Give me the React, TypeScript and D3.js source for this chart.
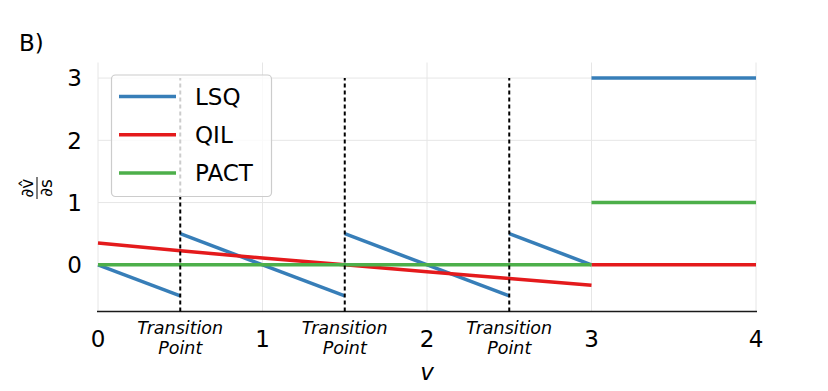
import React, { useEffect, useRef } from "react";
import * as d3 from "d3";

interface Pt {
  x: number;
  y: number;
}

// each series is a list of disconnected segments
const lsqSegments: Pt[][] = [
  [{ x: 0, y: 0 }, { x: 0.5, y: -0.5 }],
  [{ x: 0.5, y: 0.5 }, { x: 1.5, y: -0.5 }],
  [{ x: 1.5, y: 0.5 }, { x: 2.5, y: -0.5 }],
  [{ x: 2.5, y: 0.5 }, { x: 3, y: 0 }],
  [{ x: 3, y: 3 }, { x: 4, y: 3 }],
];
const qilSegments: Pt[][] = [
  [
    { x: 0, y: 0.35 },
    { x: 0.5, y: 0.225 },
    { x: 1, y: 0.11 },
    { x: 1.5, y: 0 },
    { x: 2, y: -0.11 },
    { x: 2.5, y: -0.22 },
    { x: 3, y: -0.33 },
  ],
  [{ x: 3, y: 0 }, { x: 4, y: 0 }],
];
const pactSegments: Pt[][] = [
  [{ x: 0, y: 0 }, { x: 3, y: 0 }],
  [{ x: 3, y: 1 }, { x: 4, y: 1 }],
];

const seriesNames = ["LSQ", "QIL", "PACT"];
const seriesColors = ["#377eb8", "#e41a1c", "#4daf4a"];
const transitionPoints = [0.5, 1.5, 2.5];
const xTicks = [0, 1, 2, 3, 4];
const yTicks = [0, 1, 2, 3];

const W = 828;
const H = 391;
const FONT = "DejaVu Sans, sans-serif";

const App: React.FC = () => {
  const ref = useRef<SVGSVGElement | null>(null);

  useEffect(() => {
    document.body.style.margin = "0";
    if (!ref.current) return;
    const svg = d3.select(ref.current);
    svg.selectAll("*").remove();

    const x = d3.scaleLinear().domain([0, 4]).range([98, 756]);
    const y = d3.scaleLinear().domain([-0.75, 3.25]).range([311.5, 62.5]);

    // grid
    const grid = svg.append("g").attr("stroke", "#e6e6e6").attr("stroke-width", 1);
    xTicks.forEach(t => {
      grid.append("line")
        .attr("x1", x(t)).attr("x2", x(t))
        .attr("y1", y(-0.75)).attr("y2", y(3.25));
    });
    yTicks.forEach(t => {
      grid.append("line")
        .attr("x1", x(0)).attr("x2", x(4))
        .attr("y1", y(t)).attr("y2", y(t));
    });

    // bottom spine
    svg.append("line")
      .attr("x1", x(0) - 1).attr("x2", x(4) + 1)
      .attr("y1", y(-0.75)).attr("y2", y(-0.75))
      .attr("stroke", "#1a1a1a").attr("stroke-width", 1.6);

    // tick labels
    svg.append("g").selectAll("text").data(xTicks).enter().append("text")
      .attr("x", d => x(d)).attr("y", 347)
      .attr("text-anchor", "middle")
      .attr("font-family", FONT).attr("font-size", 23)
      .text(d => d);
    svg.append("g").selectAll("text").data(yTicks).enter().append("text")
      .attr("x", 82).attr("y", d => y(d))
      .attr("dy", "0.36em")
      .attr("text-anchor", "end")
      .attr("font-family", FONT).attr("font-size", 23)
      .text(d => d);

    // transition point labels
    transitionPoints.forEach(t => {
      const g = svg.append("g")
        .attr("font-family", FONT).attr("font-size", 17.5)
        .attr("font-style", "italic").attr("text-anchor", "middle");
      g.append("text").attr("x", x(t)).attr("y", 334).text("Transition");
      g.append("text").attr("x", x(t)).attr("y", 354).text("Point");
    });

    // series lines
    const line = d3.line<Pt>().x(d => x(d.x)).y(d => y(d.y));
    [lsqSegments, qilSegments, pactSegments].forEach((segs, i) => {
      svg.append("g").selectAll("path").data(segs).enter().append("path")
        .attr("d", line)
        .attr("fill", "none")
        .attr("stroke", seriesColors[i])
        .attr("stroke-width", 3.5);
    });

    // transition dashed lines
    svg.append("g").selectAll("line").data(transitionPoints).enter().append("line")
      .attr("x1", d => x(d)).attr("x2", d => x(d))
      .attr("y1", y(-0.75)).attr("y2", y(3))
      .attr("stroke", "black").attr("stroke-width", 2)
      .attr("stroke-dasharray", "4,3");

    // legend
    const lg = svg.append("g");
    lg.append("rect")
      .attr("x", 111.5).attr("y", 75).attr("width", 160).attr("height", 121.5)
      .attr("rx", 4)
      .attr("fill", "white").attr("fill-opacity", 0.8)
      .attr("stroke", "#cccccc").attr("stroke-width", 1.2);
    seriesNames.forEach((name, i) => {
      const cy = 96.5 + i * 38.2;
      lg.append("line")
        .attr("x1", 119).attr("x2", 176).attr("y1", cy).attr("y2", cy)
        .attr("stroke", seriesColors[i]).attr("stroke-width", 3.5);
      lg.append("text")
        .attr("x", 195).attr("y", cy).attr("dy", "0.36em")
        .attr("font-family", FONT).attr("font-size", 23)
        .text(name);
    });

    // y label: rotated fraction
    const yl = svg.append("g")
      .attr("transform", "translate(37,188) rotate(-90)")
      .attr("font-family", FONT).attr("font-size", 17)
      .attr("text-anchor", "middle");
    yl.append("text").attr("x", 0).attr("y", -4).text("\u2202v\u0302");
    yl.append("line")
      .attr("x1", -11).attr("x2", 11).attr("y1", 0).attr("y2", 0)
      .attr("stroke", "black").attr("stroke-width", 1);
    yl.append("text").attr("x", 0).attr("y", 15).text("\u2202s");

    // x label
    svg.append("text")
      .attr("x", x(2)).attr("y", 380)
      .attr("text-anchor", "middle")
      .attr("font-family", FONT).attr("font-size", 23)
      .attr("font-style", "italic")
      .text("v");

    // panel label
    svg.append("text")
      .attr("x", 19).attr("y", 51)
      .attr("font-family", FONT).attr("font-size", 23)
      .text("B)");
  }, []);

  return <svg ref={ref} width={W} height={H} style={{ display: "block" }} />;
};

export default App;
